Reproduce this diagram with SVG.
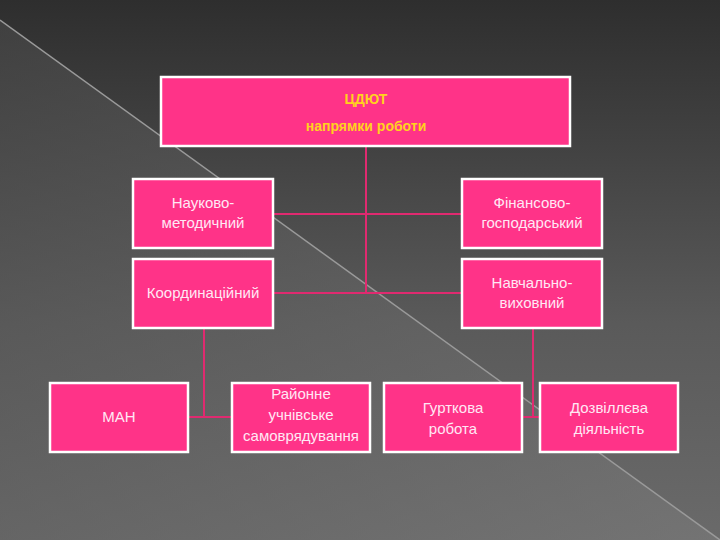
<svg xmlns="http://www.w3.org/2000/svg" width="720" height="540" viewBox="0 0 720 540">
<defs>
<linearGradient id="bg" x1="0" y1="0" x2="0" y2="1"><stop offset="0" stop-color="#2e2e2e"/><stop offset="0.6" stop-color="#5a5a5a"/><stop offset="1" stop-color="#6a6a6a"/></linearGradient>
<linearGradient id="bg2" x1="0" y1="0" x2="1" y2="1"><stop offset="0" stop-color="#4a4a4a"/><stop offset="1" stop-color="#7a7a7a"/></linearGradient>
<style>
.b{fill:#ff3388;stroke:#ffffff;stroke-width:2.5}
.t{font-family:"Liberation Sans",sans-serif;font-size:15px;fill:#ffe8f4;text-anchor:middle}
.c{stroke:#e02a70;stroke-width:2;fill:none}
</style>
</defs>
<rect width="720" height="540" fill="url(#bg)"/>
<polygon points="0,20 720,540 0,540" fill="url(#bg2)" opacity="0.6"/>
<line x1="0" y1="20" x2="720" y2="540" stroke="#9a9a9a" stroke-width="1.5"/>
<g id="connectors" class="c">
<path d="M366 146V293M273 214H462M273 293H462"/>
<path d="M204 328V417M188 417H232"/>
<path d="M533 328V417M522 417H540"/>
</g>
<g id="top"><rect class="b" x="161" y="77" width="409" height="69"/>
<text x="366" y="104" style="font-family:'Liberation Sans',sans-serif;font-size:14px;fill:#ffd21e;text-anchor:middle;font-weight:bold">ЦДЮТ</text>
<text x="366" y="131" style="font-family:'Liberation Sans',sans-serif;font-size:14px;fill:#ffd21e;text-anchor:middle;font-weight:bold">напрямки роботи</text></g>
<g id="nauk"><rect class="b" x="133" y="179" width="140" height="69"/><text class="t" x="203" y="208">Науково-</text><text class="t" x="203" y="228">методичний</text></g>
<g id="fin"><rect class="b" x="462" y="179" width="140" height="69"/><text class="t" x="532" y="208">Фінансово-</text><text class="t" x="532" y="228">господарський</text></g>
<g id="koord"><rect class="b" x="133" y="259" width="140" height="69"/><text class="t" x="203" y="298">Координаційний</text></g>
<g id="navch"><rect class="b" x="462" y="259" width="140" height="69"/><text class="t" x="532" y="288">Навчально-</text><text class="t" x="532" y="308">виховний</text></g>
<g id="man"><rect class="b" x="50" y="383" width="138" height="69"/><text class="t" x="119" y="422">МАН</text></g>
<g id="ray"><rect class="b" x="232" y="383" width="138" height="69"/><text class="t" x="301" y="399">Районне</text><text class="t" x="301" y="420">учнівське</text><text class="t" x="301" y="441">самоврядування</text></g>
<g id="gurt"><rect class="b" x="384" y="383" width="138" height="69"/><text class="t" x="453" y="413">Гурткова</text><text class="t" x="453" y="434">робота</text></g>
<g id="dozv"><rect class="b" x="540" y="383" width="138" height="69"/><text class="t" x="609" y="413">Дозвіллєва</text><text class="t" x="609" y="434">діяльність</text></g>
</svg>
